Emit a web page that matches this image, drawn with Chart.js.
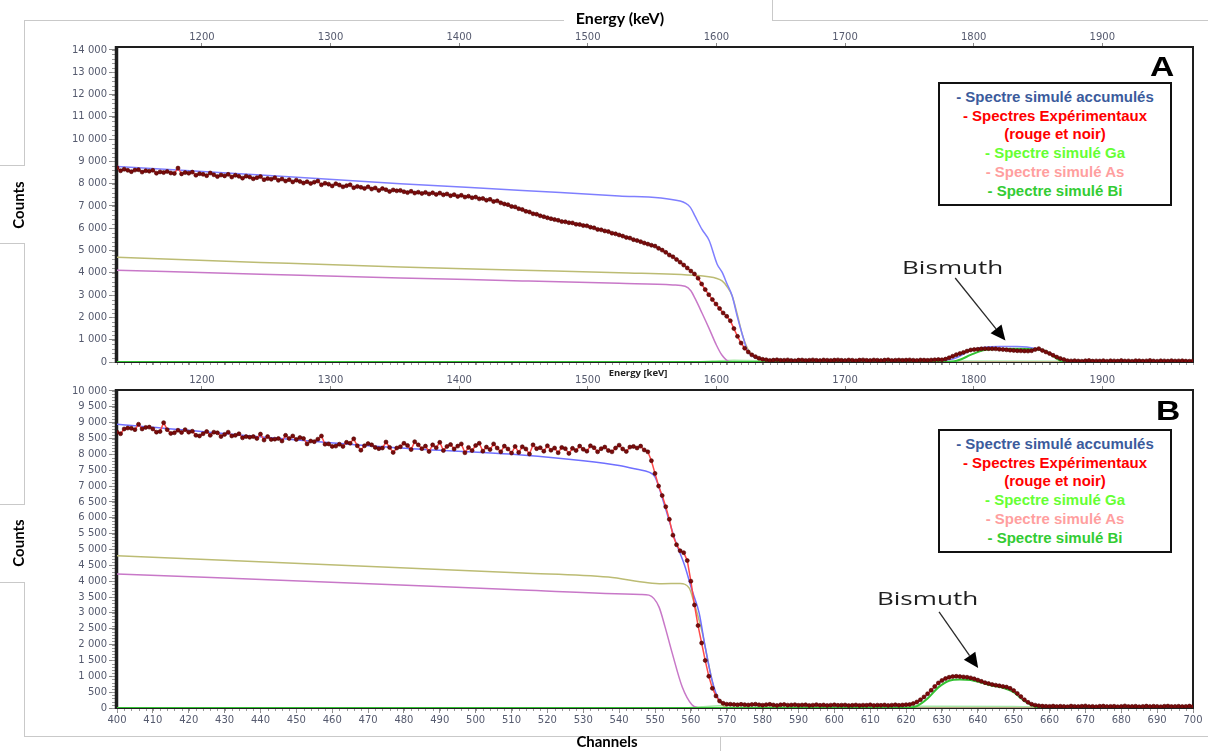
<!DOCTYPE html>
<html>
<head>
<meta charset="utf-8">
<script src="https://cdn.jsdelivr.net/npm/chart.js@4.4.1/dist/chart.umd.min.js"></script>
<style>
  body { margin: 0; width: 1208px; height: 751px; position: relative; background: #fff; overflow: hidden; }
  canvas { position: absolute; left: 0; }
  .ln { position: absolute; background: #c9c9c9; }
  .cap { position: absolute; font-family: Lato, "Open Sans", sans-serif; font-weight: 700; font-size: 15px; color: #000;
         white-space: nowrap; transform: translate(-50%, -50%); }
  .box { position: absolute; left: 938px; width: 230px; border: 2px solid #111; background: #fff; padding: 4px 0;
         font-family: "Liberation Sans", Arial, sans-serif; font-weight: 700; font-size: 15px; line-height: 18.7px; text-align: center; }
  .tag { position: absolute; font-family: "Liberation Sans", Arial, sans-serif; font-weight: 700; font-size: 28px; line-height: 28px;
         transform: scaleX(1.2); transform-origin: left top; }
</style>
</head>
<body>
<canvas id="chartA" width="1208" height="370" style="top:0"></canvas>
<canvas id="chartB" width="1208" height="386" style="top:365px"></canvas>

<!-- frame of the composed figure -->
<div class="ln" style="left:24px;top:20px;width:540px;height:1px"></div>
<div class="ln" style="left:772px;top:0;width:1px;height:21px"></div>
<div class="ln" style="left:772px;top:20px;width:436px;height:1px"></div>
<div class="ln" style="left:24px;top:20px;width:1px;height:145px"></div>
<div class="ln" style="left:0;top:165px;width:25px;height:1px"></div>
<div class="ln" style="left:0;top:243px;width:25px;height:1px"></div>
<div class="ln" style="left:24px;top:243px;width:1px;height:261px"></div>
<div class="ln" style="left:0;top:504px;width:25px;height:1px"></div>
<div class="ln" style="left:0;top:582px;width:25px;height:1px"></div>
<div class="ln" style="left:24px;top:582px;width:1px;height:154px"></div>
<div class="ln" style="left:24px;top:736px;width:696px;height:1px"></div>
<div class="ln" style="left:720px;top:736px;width:1px;height:15px"></div>
<div class="ln" style="left:720px;top:736px;width:488px;height:1px"></div>

<div class="cap" style="left:620px;top:17px;font-size:16px">Energy (keV)</div>
<div class="cap" style="left:18px;top:205px;transform:translate(-50%,-50%) rotate(-90deg)">Counts</div>
<div class="cap" style="left:18px;top:543px;transform:translate(-50%,-50%) rotate(-90deg)">Counts</div>
<div class="cap" style="left:607px;top:741px">Channels</div>
<div class="cap" style="left:638px;top:372px;font-family:'Open Sans',sans-serif;font-size:9.5px;color:#222">Energy [keV]</div>

<div class="tag" style="left:1150px;top:53px">A</div>
<div class="tag" style="left:1156px;top:397px">B</div>

<div class="box" style="top:82px">
  <div style="color:#3b5b9c">- Spectre simulé accumulés</div>
  <div style="color:#ff0000">- Spectres Expérimentaux</div>
  <div style="color:#ff0000">(rouge et noir)</div>
  <div style="color:#66ff33">- Spectre simulé Ga</div>
  <div style="color:#ff9f9f">- Spectre simulé As</div>
  <div style="color:#33cc33">- Spectre simulé Bi</div>
</div>
<div class="box" style="top:429px">
  <div style="color:#3b5b9c">- Spectre simulé accumulés</div>
  <div style="color:#ff0000">- Spectres Expérimentaux</div>
  <div style="color:#ff0000">(rouge et noir)</div>
  <div style="color:#66ff33">- Spectre simulé Ga</div>
  <div style="color:#ff9f9f">- Spectre simulé As</div>
  <div style="color:#33cc33">- Spectre simulé Bi</div>
</div>

<script>
// channel grid shared by both panels, energy calibration of the top axes
const chStart = 400;
const eMin = 1134, eMax = 1970.5;

// tick labels
const chTicks = [400, 410, 420, 430, 440, 450, 460, 470, 480, 490, 500, 510, 520, 530, 540, 550,
                 560, 570, 580, 590, 600, 610, 620, 630, 640, 650, 660, 670, 680, 690, 700];
const eTicks = [1200, 1300, 1400, 1500, 1600, 1700, 1800, 1900];
const yTicksA = [0, 1000, 2000, 3000, 4000, 5000, 6000, 7000, 8000, 9000, 10000, 11000, 12000, 13000, 14000];
const yTicksB = [0, 500, 1000, 1500, 2000, 2500, 3000, 3500, 4000, 4500, 5000,
                 5500, 6000, 6500, 7000, 7500, 8000, 8500, 9000, 9500, 10000];

// ---- panel A : measured spectrum, one value per channel (400 .. 700)
const expA = [
  8720, 8580, 8650, 8600, 8540, 8610, 8630, 8520, 8580, 8560,
  8600, 8470, 8530, 8500, 8550, 8480, 8460, 8700, 8440, 8500,
  8470, 8520, 8380, 8450, 8420, 8360, 8480, 8400, 8320, 8390,
  8350, 8420, 8300, 8380, 8330, 8250, 8340, 8300, 8220, 8270,
  8320, 8180, 8230, 8200, 8270, 8150, 8210, 8120, 8180, 8080,
  8160, 8100, 8030, 8090, 8010, 8070, 8120, 7950, 8020, 7980,
  7900, 8000, 7940, 7860, 7910, 7950, 7820, 7880, 7840, 7790,
  7860, 7760, 7810, 7700, 7780, 7730, 7650, 7720, 7680, 7700,
  7640, 7600, 7660, 7580, 7620, 7560, 7610, 7540, 7590, 7520,
  7580, 7500, 7540, 7460, 7510, 7430, 7480, 7400, 7440, 7370,
  7400, 7320, 7340, 7260, 7300, 7200, 7230, 7140, 7090, 7060,
  6980, 6960, 6880, 6840, 6760, 6730, 6650, 6630, 6560, 6520,
  6470, 6430, 6390, 6360, 6300, 6290, 6250, 6240, 6180, 6170,
  6120, 6110, 6050, 6020, 5950, 5930, 5880, 5850, 5780, 5750,
  5700, 5650, 5590, 5560, 5490, 5450, 5400, 5340, 5290, 5240,
  5200, 5100, 5020, 4920, 4800, 4720, 4600, 4480, 4350, 4220,
  4080, 3950, 3760, 3500, 3250, 3020, 2800, 2600, 2400, 2200,
  2050, 1850, 1500, 1150, 850, 620, 450, 320, 240, 170,
  120, 100, 70, 85, 100, 75, 80, 95, 70, 60,
  85, 90, 70, 80, 95, 75, 65, 90, 80, 70,
  85, 95, 75, 70, 90, 80, 60, 85, 95, 75,
  70, 90, 80, 65, 85, 100, 70, 80, 90, 75,
  85, 95, 80, 70, 90, 85, 75, 90, 100, 110,
  100, 130, 190, 260, 330, 380, 430, 490, 540, 560,
  570, 590, 600, 600, 595, 590, 570, 560, 545, 530,
  520, 505, 500, 495, 490, 505, 560, 600, 520, 450,
  380, 300, 220, 160, 110, 60, 50, 60, 45, 35,
  55, 70, 40, 50, 45, 60, 35, 55, 50, 40,
  65, 45, 50, 35, 60, 55, 40, 50, 70, 45,
  35, 55, 50, 40, 60, 45, 50, 55, 40, 35,
  50
];
// panel A simulated curves (channel, counts)
const sumA_ch = [400, 440, 479, 513, 540, 557, 559.8, 561.2, 563.1, 565.1, 567.3, 568.7, 570.1, 571.5, 573, 574.4, 575.8, 578, 581, 600, 630, 633, 636, 638, 641.5, 646, 651, 656.4, 660.3, 662, 664, 667, 700];
const sumA    = [8770, 8390, 8000, 7700, 7450, 7220, 6950, 6530, 5950, 5450, 4400, 4030, 3500, 2970, 2000, 1200, 500, 200, 80, 70, 80, 130, 350, 530, 650, 700, 700, 600, 380, 220, 80, 40, 40];
const gaA_ch  = [400, 440, 479, 513, 540, 562, 565, 567, 568.7, 570, 571.5, 573, 574.4, 575.8, 577.1, 579.9, 585, 700];
const gaA     = [4700, 4470, 4260, 4120, 4010, 3880, 3820, 3760, 3640, 3400, 2970, 2100, 1200, 600, 300, 50, 0, 0];
const asA_ch  = [400, 440, 479, 513, 540, 555, 558.4, 560, 561.2, 563.1, 565.1, 567, 568.7, 570.7, 573, 700];
const asA     = [4120, 3940, 3770, 3640, 3530, 3460, 3400, 3200, 2840, 2200, 1500, 800, 300, 20, 0, 0];
const biA_ch  = [400, 632, 635, 638, 641.5, 645, 651, 655, 658.3, 660.5, 662, 664, 700];
const biA     = [0, 0, 100, 320, 530, 580, 600, 590, 530, 330, 160, 0, 0];
const tailA_ch = [400, 560, 566, 572, 580, 630, 665, 700];
const tailA    = [0, 0, 40, 80, 60, 50, 30, 0];

// ---- panel B : measured spectrum, one value per channel (400 .. 700)
const expB = [
  8700, 8650, 8800, 8830, 8820, 8780, 8950, 8800, 8850, 8860,
  8800, 8700, 8720, 9000, 8780, 8660, 8680, 8760, 8690, 8780,
  8700, 8730, 8600, 8580, 8650, 8720, 8600, 8700, 8680, 8560,
  8630, 8700, 8580, 8600, 8650, 8520, 8560, 8540, 8560, 8500,
  8640, 8450, 8560, 8470, 8480, 8500, 8420, 8600, 8500, 8580,
  8470, 8530, 8500, 8330, 8420, 8400, 8480, 8580, 8320, 8330,
  8250, 8260, 8320, 8250, 8380, 8350, 8490, 8270, 8130, 8270,
  8340, 8300, 8220, 8180, 8200, 8390, 8220, 8060, 8200, 8240,
  8350, 8280, 8150, 8400, 8300, 8180, 8260, 8090, 8300, 8210,
  8380, 8120, 8250, 8310, 8170, 8260, 8330, 8050, 8220, 8120,
  8280, 8350, 8100, 8230, 8150, 8330, 8200, 8080, 8260, 8170,
  8040, 8250, 8060, 8240, 8170, 8010, 8300, 8180, 8210, 8100,
  8270, 8130, 8200, 8050, 8220, 8180, 8030, 8190, 8120, 8260,
  8160, 8100, 8270, 8210, 8080, 8180, 8230, 8120, 8080, 8200,
  8290, 8170, 8090, 8230, 8250, 8200, 8260, 8140, 8080, 7800,
  7400, 7000, 6700, 6350, 5950, 5450, 5150, 4960, 4900, 4650,
  4000, 3250, 2600, 2050, 1500, 1000, 620, 380, 220, 150,
  120, 120, 110, 100, 115, 105, 95, 110, 120, 100,
  90, 105, 115, 95, 80, 100, 110, 90, 95, 105,
  85, 95, 100, 80, 90, 105, 85, 95, 80, 90,
  100, 85, 90, 95, 75, 85, 95, 80, 90, 85,
  100, 80, 90, 85, 95, 80, 90, 100, 85, 95,
  105, 110, 140, 190, 260, 350, 450, 560, 680, 790,
  870, 930, 970, 990, 1000, 990, 980, 970, 950, 920,
  880, 840, 800, 770, 740, 720, 700, 680, 660, 620,
  550, 460, 360, 260, 180, 120, 90, 70, 60, 55,
  50, 60, 45, 55, 50, 40, 60, 50, 45, 55,
  65, 45, 50, 40, 55, 60, 45, 50, 55, 40,
  50, 65, 45, 50, 55, 40, 50, 60, 45, 55,
  50, 40, 55, 60, 45, 50, 55, 45, 50, 60,
  50
];
const sumB_ch = [400, 479, 512.8, 530, 540, 545, 548.3, 550, 552.8, 555.6, 558.4, 560.3, 562.3, 564, 565.9, 567.9, 570.7, 580, 600, 620, 623, 626, 629, 632, 635, 638, 641, 644, 647, 650, 653, 656, 659, 700];
const sumB    = [8950, 8200, 7980, 7800, 7650, 7530, 7440, 7290, 6340, 5300, 4450, 3720, 3000, 1920, 880, 250, 100, 90, 80, 80, 170, 430, 780, 960, 990, 950, 850, 750, 680, 540, 250, 80, 50, 40];
const gaB_ch  = [400, 479, 513, 537, 548, 552, 557, 559.5, 561.2, 563.2, 565.1, 566.8, 568.7, 571, 700];
const gaB     = [4800, 4420, 4260, 4130, 3950, 3920, 3930, 3790, 3200, 2370, 1300, 470, 100, 0, 0];
const asB_ch  = [400, 479, 513, 546, 548.3, 551.1, 552.8, 554.8, 557.6, 560.3, 562.3, 700];
const asB     = [4230, 3880, 3720, 3580, 3560, 3190, 2560, 1730, 660, 100, 0, 0];
const biB_ch  = [400, 620, 623, 626, 629, 632, 635, 638, 641, 644, 647, 650, 653, 656, 658, 700];
const biB     = [0, 0, 60, 300, 650, 860, 900, 880, 800, 710, 640, 500, 220, 40, 0, 0];
const tailB_ch = [400, 558, 563, 568, 600, 650, 656, 660, 700];
const tailB    = [0, 0, 40, 70, 60, 50, 30, 0, 0];

// "Bismuth" arrows, in data units (channel, counts)
const notes = {
  chartA: { text: [633, 4170], from: [633.7, 3770], to: [647.7, 960], yMinor: 200 },
  chartB: { text: [626, 3410], from: [629.2, 3030], to: [640.1, 1260], yMinor: 100 }
};

Chart.defaults.font.family = '"DejaVu Sans", "Open Sans", sans-serif';
const tickCol = '#555a6e';

function pts(xs, ys) { return xs.map((x, i) => ({ x: x, y: ys[i] })); }
function perChannel(vals) { return vals.map((v, i) => ({ x: chStart + i, y: v })); }
function spaced(v) { return String(v).replace(/\B(?=(\d{3})+(?!\d))/g, ' '); }
function useTicks(list) { return s => { s.ticks = list.map(v => ({ value: v })); }; }

function curve(label, data, color, width) {
  return { label: label, data: data, xAxisID: 'x', borderColor: color, borderWidth: width || 1.5,
           pointRadius: 0, cubicInterpolationMode: 'monotone', fill: false };
}
function measured(label, data) {
  return { label: label, data: data, xAxisID: 'x', borderColor: '#ff4a4a', borderWidth: 1.5, tension: 0,
           pointRadius: 2, pointBackgroundColor: '#7a0b0b', pointBorderColor: '#4d0000', pointBorderWidth: 0.6 };
}

const framePlugin = {
  id: 'frame',
  beforeDatasetsDraw(chart) {
    const { ctx, chartArea: a, scales } = chart;
    const n = notes[chart.canvas.id];
    ctx.save();
    ctx.strokeStyle = '#9a9a9a';
    ctx.lineWidth = 1;
    ctx.beginPath();
    for (let v = 0; v <= scales.y.max; v += n.yMinor) {
      const p = Math.round(scales.y.getPixelForValue(v)) + 0.5;
      ctx.moveTo(a.left - 5, p); ctx.lineTo(a.left - 2, p);
    }
    for (let v = 400; v <= 700; v += 2) {
      const p = Math.round(scales.x.getPixelForValue(v)) + 0.5;
      ctx.moveTo(p, a.bottom); ctx.lineTo(p, a.bottom + 3);
    }
    ctx.stroke();
    ctx.strokeStyle = '#1e1e1e';
    ctx.lineWidth = 2;
    ctx.strokeRect(a.left, a.top, a.right - a.left, a.bottom - a.top);
    ctx.lineWidth = 3.5;
    ctx.beginPath();
    ctx.moveTo(a.left - 0.5, a.top - 1); ctx.lineTo(a.left - 0.5, a.bottom + 1);
    ctx.stroke();
    ctx.restore();
  },
  afterDatasetsDraw(chart) {
    const { ctx, scales } = chart;
    const n = notes[chart.canvas.id];
    const X = v => scales.x.getPixelForValue(v), Y = v => scales.y.getPixelForValue(v);
    ctx.save();
    ctx.fillStyle = '#1f1f1f';
    ctx.font = '18px "Open Sans"';
    ctx.textAlign = 'center';
    ctx.textBaseline = 'middle';
    ctx.translate(X(n.text[0]), Y(n.text[1]));
    ctx.scale(1.45, 1);
    ctx.fillText('Bismuth', 0, 0);
    ctx.restore();

    const x0 = X(n.from[0]), y0 = Y(n.from[1]), x1 = X(n.to[0]), y1 = Y(n.to[1]);
    const ang = Math.atan2(y1 - y0, x1 - x0), head = 15, half = 7;
    const bx = x1 - head * Math.cos(ang), by = y1 - head * Math.sin(ang);
    ctx.save();
    ctx.strokeStyle = '#2a2a2a';
    ctx.fillStyle = '#000';
    ctx.lineWidth = 1.3;
    ctx.beginPath(); ctx.moveTo(x0, y0); ctx.lineTo(bx, by); ctx.stroke();
    ctx.beginPath();
    ctx.moveTo(x1, y1);
    ctx.lineTo(bx + half * Math.sin(ang), by - half * Math.cos(ang));
    ctx.lineTo(bx - half * Math.sin(ang), by + half * Math.cos(ang));
    ctx.closePath(); ctx.fill();
    ctx.restore();
  }
};

function makeChart(id, sets, cfg) {
  return new Chart(document.getElementById(id), {
    type: 'line',
    data: { datasets: sets },
    options: {
      responsive: false,
      animation: false,
      layout: { padding: { left: 0, right: 15, top: 0, bottom: 0 } },
      plugins: { legend: { display: false }, tooltip: { enabled: false } },
      scales: {
        x: {
          type: 'linear', position: 'bottom', min: 400, max: 700,
          afterFit: s => { s.height = cfg.xH; },
          afterBuildTicks: useTicks(chTicks),
          ticks: { display: cfg.xLabels, autoSkip: false, maxRotation: 0, padding: 1,
                   font: { size: 10 }, color: tickCol },
          grid: { drawOnChartArea: false, tickLength: cfg.xLabels ? 5 : 3, color: '#8c8c8c' },
          border: { display: false }
        },
        e: {
          type: 'linear', position: 'top', min: eMin, max: eMax,
          afterFit: s => { s.height = cfg.eH; },
          afterBuildTicks: useTicks(eTicks),
          ticks: { autoSkip: false, maxRotation: 0, padding: 0, font: { size: 10 },
                   color: tickCol, callback: v => String(v) },
          grid: { drawOnChartArea: false, tickLength: 4, color: '#8c8c8c' },
          border: { display: false }
        },
        y: {
          min: 0, max: cfg.yMax,
          afterFit: s => { s.width = 117; },
          afterBuildTicks: useTicks(cfg.yTicks),
          ticks: { autoSkip: false, padding: 2, font: { size: 10 }, color: tickCol,
                   callback: v => spaced(v) },
          grid: { drawOnChartArea: false, tickLength: 8, color: '#8c8c8c' },
          border: { display: false }
        }
      }
    },
    plugins: [framePlugin]
  });
}

makeChart('chartA', [
  measured('Spectres Expérimentaux', perChannel(expA)),
  curve('Spectre simulé accumulés', pts(sumA_ch, sumA), '#7f7fff'),
  curve('Spectre simulé Bi', pts(biA_ch, biA), '#33c133', 2),
  curve('Spectre simulé Ga', pts(gaA_ch, gaA), '#bcbc74'),
  curve('Spectre simulé As', pts(asA_ch, asA), '#c878c8'),
  curve('Ga (queue)', pts(tailA_ch, tailA), '#a6e8a6')
], { xH: 6, eH: 47, yMax: 14134, yTicks: yTicksA, xLabels: false });

makeChart('chartB', [
  measured('Spectres Expérimentaux', perChannel(expB)),
  curve('Spectre simulé accumulés', pts(sumB_ch, sumB), '#6f6fff'),
  curve('Spectre simulé Bi', pts(biB_ch, biB), '#33c133', 2),
  curve('Spectre simulé Ga', pts(gaB_ch, gaB), '#bcbc74'),
  curve('Spectre simulé As', pts(asB_ch, asB), '#c878c8'),
  curve('Ga (queue)', pts(tailB_ch, tailB), '#a6e8a6')
], { xH: 43, eH: 25, yMax: 10030, yTicks: yTicksB, xLabels: true });
</script>
</body>
</html>
